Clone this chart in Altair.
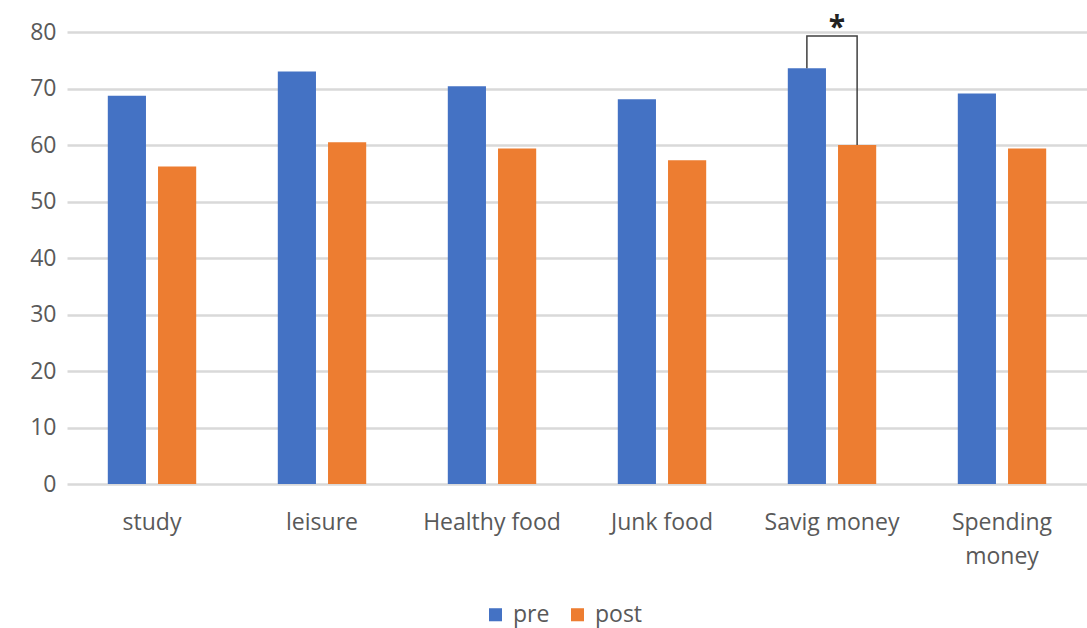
import altair as alt
import pandas as pd

categories = ["study", "leisure", "Healthy food", "Junk food", "Savig money", "Spending money"]
pre_values = [68.7, 73.0, 70.4, 68.1, 73.6, 69.1]
post_values = [56.2, 60.5, 59.4, 57.3, 60.0, 59.4]
groups = ["pre", "post"]
colors = ["#4472C4", "#ED7D31"]

rows = []
for c, a, b in zip(categories, pre_values, post_values):
    rows.append({"category": c, "group": "pre", "value": a})
    rows.append({"category": c, "group": "post", "value": b})
df = pd.DataFrame(rows)

# significance bracket on "Savig money"
bracket_cat = "Savig money"
bracket_top = 79.3
bracket = pd.DataFrame({
    "category": [bracket_cat] * 4,
    "group": ["pre", "pre", "post", "post"],
    "value": [pre_values[4], bracket_top, bracket_top, post_values[4]],
    "ord": [0, 1, 2, 3],
})
star = pd.DataFrame({"category": [bracket_cat], "value": [80.7], "txt": ["*"]})

FONT = "Open Sans"
LABEL = "#595959"

x_enc = alt.X("category:N", sort=categories, title=None,
              scale=alt.Scale(paddingInner=0.48, paddingOuter=0.24),
              axis=alt.Axis(labelAngle=0, labelFont=FONT, labelFontSize=23,
                            labelColor=LABEL, labelPadding=27, ticks=False,
                            grid=False, domain=False,
                            labelLineHeight=34,
                            labelExpr="datum.label == 'Spending money' ? ['Spending', 'money'] : datum.label"))
xoff = alt.XOffset("group:N", sort=groups,
                   scale=alt.Scale(paddingInner=0.24, paddingOuter=0))
y_enc = alt.Y("value:Q", title=None,
              scale=alt.Scale(domain=[0, 80], nice=False),
              axis=alt.Axis(values=list(range(0, 81, 10)), labelFont=FONT,
                            labelFontSize=23, labelColor=LABEL, labelPadding=11,
                            ticks=False, domain=False, grid=True,
                            gridColor="#d9d9d9", gridWidth=2.5))

bars = alt.Chart(df).mark_bar().encode(
    x=x_enc,
    xOffset=xoff,
    y=y_enc,
    color=alt.Color("group:N", sort=groups,
                    scale=alt.Scale(domain=groups, range=colors),
                    legend=alt.Legend(title=None, orient="none", direction="horizontal",
                                      legendX=417, legendY=571,
                                      symbolType="square", symbolSize=170,
                                      symbolStrokeWidth=0,
                                      labelFont=FONT, labelFontSize=23,
                                      labelColor=LABEL, columnPadding=16,
                                      labelOffset=6)),
)

line = alt.Chart(bracket).mark_line(color="#404040", strokeWidth=1.5, clip=False).encode(
    x=alt.X("category:N", sort=categories),
    xOffset=alt.XOffset("group:N", sort=groups),
    y=alt.Y("value:Q"),
    order="ord:Q",
)

asterisk = alt.Chart(star).mark_text(font=FONT, fontSize=30, fontWeight="bold",
                                     color="#222222", baseline="middle", dx=5,
                                     clip=False).encode(
    x=alt.X("category:N", sort=categories),
    y=alt.Y("value:Q"),
    text="txt:N",
)

chart = alt.layer(bars, line, asterisk).properties(
    width=1020, height=452,
    background="white",
    autosize=alt.AutoSizeParams(type="none"),
    padding={"left": 67, "top": 32, "right": 0, "bottom": 144},
).configure_view(strokeWidth=0).configure_axis(domain=False)

chart.save("out.html", embed_options={"renderer": "svg", "actions": False})
